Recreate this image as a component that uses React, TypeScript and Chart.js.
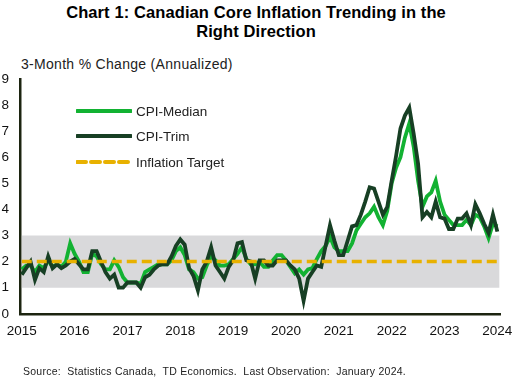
import React, { useEffect, useRef } from "react";
import { Chart, registerables } from "chart.js";

Chart.register(...registerables);

const startYear = 2015;
const yearTicks = ["2015", "2016", "2017", "2018", "2019", "2020", "2021", "2022", "2023", "2024"];
const yTicks = [0, 1, 2, 3, 4, 5, 6, 7, 8, 9];

// Monthly, Jan 2015 .. Jan 2024
const cpiMedian = [
  1.7, 1.85, 1.85, 1.6, 1.85, 1.75, 2.05, 1.8, 1.9, 1.8, 2.0, 2.7,
  2.3, 2.0, 1.6, 1.6, 2.3, 2.2, 1.9, 1.7, 1.7, 2.05, 1.8, 1.4,
  1.2, 1.2, 1.2, 1.15, 1.6, 1.7, 1.8, 1.9, 1.9, 1.9, 2.05, 2.4,
  2.55, 2.25, 1.7, 1.6, 1.35, 1.4, 1.85, 2.2, 2.05, 1.85, 1.85, 1.9,
  2.1, 2.3, 2.55, 2.1, 1.9, 1.9, 2.0, 1.8, 1.8, 2.05, 2.25, 2.25,
  2.05, 1.8, 1.55, 1.7, 1.5, 1.7, 1.75, 2.1, 2.4, 2.6, 2.95, 2.55,
  2.4, 2.4, 2.4, 2.7, 3.2, 3.45, 3.7, 3.85, 4.1, 3.7, 3.4, 3.95,
  5.0, 5.6, 6.0, 6.75, 7.3, 6.4, 5.1, 4.1, 4.5, 4.65, 5.1, 4.3,
  3.8, 3.6, 3.4, 3.4, 3.4, 3.6, 3.4, 3.8, 3.7, 3.35, 2.9, 3.45,
  3.35,
];

const cpiTrim = [
  1.5, 1.75, 2.0, 1.3, 1.75, 1.6, 2.2, 1.75, 1.9, 1.75, 1.85, 2.0,
  2.1, 1.9, 1.7, 1.7, 2.4, 2.4, 2.0, 1.6, 1.35, 1.5, 1.0, 1.0,
  1.2, 1.2, 1.2, 1.0, 1.4, 1.5, 1.7, 1.85, 1.9, 1.9, 2.2, 2.6,
  2.85, 2.65, 1.75, 1.45, 0.9, 1.7, 2.0, 2.55, 1.85, 1.6, 1.35, 1.8,
  2.05, 2.7, 2.75, 2.05, 2.0, 1.35, 2.05, 2.05, 1.85, 1.85, 2.05, 2.05,
  2.05, 1.85, 1.7, 1.35, 0.5, 1.35, 1.6, 1.85, 1.8, 2.6, 3.4, 2.8,
  2.25, 2.25, 2.8, 3.35, 3.4, 3.8, 4.3, 4.85, 4.8, 4.3, 3.8, 4.1,
  5.1, 6.05, 7.1, 7.6, 7.9, 6.9, 5.75, 3.7, 3.9, 3.7, 4.3, 3.7,
  3.65, 3.25, 3.25, 3.65, 3.65, 3.85, 3.4, 4.2, 3.85, 3.45, 3.1, 3.8,
  3.15,
];

const inflationTarget = 2;
const targetBandLow = 1;
const targetBandHigh = 3;

const FONT = "'Liberation Sans', Arial, sans-serif";
const C_MEDIAN = "#12b232";
const C_TRIM = "#173f24";
const C_TARGET = "#e8b100";
const C_BAND = "#d9d9db";
const C_AXIS = "#1c2410";

export default function App() {
  const ref = useRef<HTMLCanvasElement | null>(null);

  useEffect(() => {
    if (!ref.current) return;
    const n = cpiTrim.length;
    const xMin = -0.4;
    const xMax = n - 1 + 0.6;
    const toXY = (arr: number[]) => arr.map((v, i) => ({ x: i, y: v }));

    const chart = new Chart(ref.current, {
      type: "line",
      data: {
        datasets: [
          {
            label: "Inflation Target",
            data: [
              { x: 0, y: inflationTarget },
              { x: n - 1, y: inflationTarget },
            ],
            borderColor: C_TARGET,
            borderWidth: 3.5,
            borderDash: [10, 5],
            pointRadius: 0,
            order: 0,
          },
          {
            label: "CPI-Trim",
            data: toXY(cpiTrim),
            borderColor: C_TRIM,
            borderWidth: 3.8,
            pointRadius: 0,
            tension: 0,
            order: 1,
          },
          {
            label: "CPI-Median",
            data: toXY(cpiMedian),
            borderColor: C_MEDIAN,
            borderWidth: 3.8,
            pointRadius: 0,
            tension: 0,
            order: 2,
          },
          {
            label: "band",
            data: [
              { x: 0, y: targetBandHigh },
              { x: xMax - 0.1, y: targetBandHigh },
            ],
            borderWidth: 0,
            borderColor: "rgba(0,0,0,0)",
            backgroundColor: C_BAND,
            fill: { value: targetBandLow },
            pointRadius: 0,
            order: 3,
          },
        ],
      },
      options: {
        animation: false,
        responsive: false,
        maintainAspectRatio: false,
        layout: { autoPadding: false, padding: { top: 79, left: 1.5, right: 16, bottom: 36 } },
        plugins: {
          legend: { display: false },
          tooltip: { enabled: false },
          title: { display: false },
        },
        scales: {
          x: {
            type: "linear",
            min: xMin,
            max: xMax,
            grid: { display: false, drawTicks: false, tickLength: 0 },
            border: { display: true, color: C_AXIS, width: 2.5 },
            afterBuildTicks: (scale: any) => {
              scale.ticks = yearTicks.map((_, i) => ({ value: i * 12 }));
            },
            afterFit: (scale: any) => {
              scale.paddingLeft = 0;
              scale.paddingRight = 0;
            },
            ticks: {
              autoSkip: false,
              maxRotation: 0,
              padding: 9,
              color: "#111",
              font: { family: FONT, size: 13.5 },
              callback: (v: any) => String(startYear + Math.round(Number(v) / 12)),
            },
          },
          y: {
            type: "linear",
            min: 0,
            max: 9,
            grid: { display: false, drawTicks: false, tickLength: 0 },
            border: { display: true, color: C_AXIS, width: 2.5 },
            afterBuildTicks: (scale: any) => {
              scale.ticks = yTicks.map((v) => ({ value: v }));
            },
            afterFit: (scale: any) => {
              scale.width = 18.5;
              scale.paddingTop = 0;
              scale.paddingBottom = 0;
            },
            ticks: {
              padding: 11,
              color: "#111",
              font: { family: FONT, size: 13.5 },
            },
          },
        },
      },
    });
    return () => chart.destroy();
  }, []);

  const legendItems = [
    { label: "CPI-Median", color: C_MEDIAN, dash: "" },
    { label: "CPI-Trim", color: C_TRIM, dash: "" },
    { label: "Inflation Target", color: C_TARGET, dash: "9 5" },
  ];

  return (
    <div
      style={{
        position: "absolute",
        left: 0,
        top: 0,
        width: 516,
        height: 384,
        background: "#fff",
        fontFamily: FONT,
        overflow: "hidden",
      }}
    >
      <div
        style={{
          position: "absolute",
          left: 0,
          top: 3,
          width: 512,
          textAlign: "center",
          fontWeight: "bold",
          fontSize: 16.5,
          letterSpacing: 0.1,
          lineHeight: "19px",
          color: "#000",
        }}
      >
        Chart 1: Canadian Core Inflation Trending in the
        <br />
        Right Direction
      </div>
      <div
        style={{
          position: "absolute",
          left: 21,
          top: 55,
          fontSize: 14,
          letterSpacing: 0.3,
          lineHeight: "18px",
          color: "#222",
        }}
      >
        3-Month % Change (Annualized)
      </div>
      <canvas ref={ref} width={516} height={384} style={{ position: "absolute", left: 0, top: 0 }} />
      {legendItems.map((it, i) => (
        <div
          key={it.label}
          style={{
            position: "absolute",
            left: 76,
            top: [102, 127, 153][i],
            height: 18,
            display: "flex",
            alignItems: "center",
            fontSize: 13.5,
            color: "#222",
          }}
        >
          <svg width={56} height={8} style={{ marginRight: 4 }}>
            <line
              x1={1}
              y1={4}
              x2={55}
              y2={4}
              stroke={it.color}
              strokeWidth={4}
              strokeLinecap="round"
              strokeDasharray={it.dash || undefined}
            />
          </svg>
          {it.label}
        </div>
      ))}
      <div
        style={{
          position: "absolute",
          left: 23,
          top: 364,
          fontSize: 10.5,
          letterSpacing: 0.25,
          lineHeight: "14px",
          color: "#222",
          whiteSpace: "pre",
        }}
      >
        {"Source:  Statistics Canada,  TD Economics.  Last Observation:  January 2024."}
      </div>
    </div>
  );
}
